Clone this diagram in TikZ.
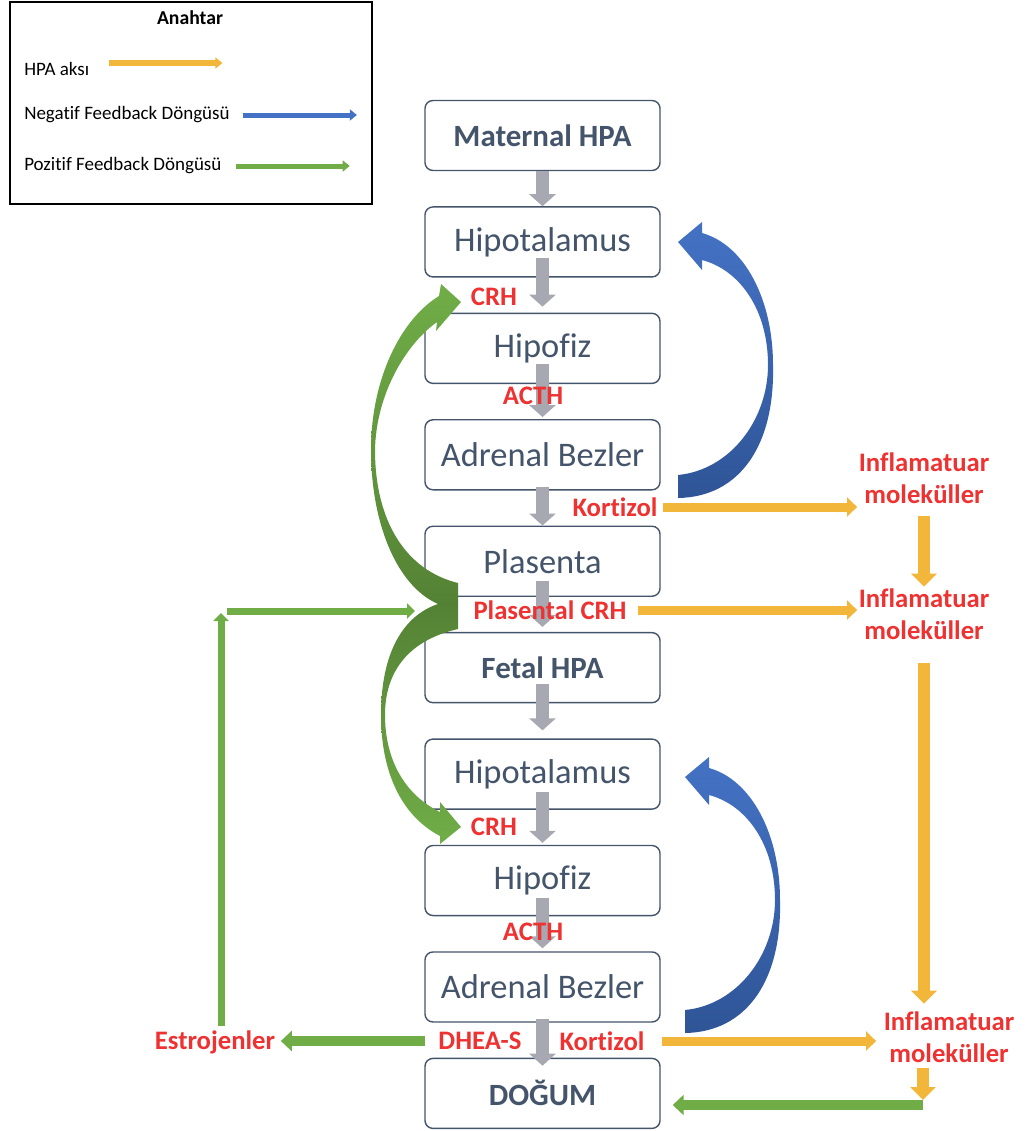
\documentclass[tikz,border=0pt]{standalone}
\usepackage{fontspec}
\setmainfont{Carlito}[Ligatures=NoCommon]
\usepackage{tikz}
\usepackage{xcolor}
\usetikzlibrary{arrows.meta,positioning,calc}
\definecolor{boxline}{RGB}{68,84,106}
\definecolor{flowgray}{RGB}{168,168,178}
\definecolor{hormonered}{RGB}{238,50,50}
\definecolor{axisyellow}{RGB}{242,183,58}
\definecolor{negblue}{RGB}{68,114,196}
\definecolor{negbluedark}{RGB}{47,85,151}
\definecolor{loopgreen}{RGB}{112,173,71}
\definecolor{loopgreendark}{RGB}{84,130,53}
\tikzset{
    hpa-box/.style = {draw=boxline, fill=white, line width=1pt, rectangle, rounded corners=0.2cm, minimum width=5.875cm, minimum height=1.75cm, inner sep=0pt, text=boxline, font=\fontsize{24.5}{28}\selectfont},
    hpa-box-bold/.style = {hpa-box, font=\fontsize{22}{26}\selectfont\bfseries},
    hormone/.style = {text=hormonered, font=\fontsize{19}{23}\selectfont\bfseries, inner sep=1pt, align=center},
    hpa-flow/.style = {draw=flowgray, line width=0.325cm, -{Triangle[width=0.65cm,length=0.3cm]}},
    hpa-axis/.style = {draw=axisyellow, line width=0.225cm, -{Triangle[width=0.475cm,length=0.25cm]}},
    hpa-axis-down/.style = {draw=axisyellow, line width=0.3cm, -{Triangle[width=0.625cm,length=0.325cm]}},
    pos-loop/.style = {draw=loopgreen, line width=0.25cm, -{Triangle[width=0.5cm,length=0.275cm]}},
    pos-loop-thin/.style = {draw=loopgreen, line width=0.175cm, -{Triangle[width=0.375cm,length=0.2cm]}},
    key-arrow/.style = {line width=0.125cm, -{Triangle[width=0.275cm,length=0.175cm]}},
    key-text/.style = {anchor=west, font=\fontsize{13.5}{16}\selectfont, inner sep=0pt},
}

\begin{document}
\begin{tikzpicture}[x=0.025cm, y=-0.025cm]
\useasboundingbox (0,0) rectangle (1035,1131);

\node[draw=black, line width=1pt, minimum width=9.05cm, minimum height=5.05cm, inner sep=0pt] (key) at (191,103) {};
\node[font=\fontsize{14}{16}\selectfont\bfseries] (key-title) at (190,18) {Anahtar};
\node[key-text] (key-hpa) at (24,69) {HPA aksı};
\node[key-text] (key-neg) at (24,115) {Negatif Feedback Döngüsü};
\node[key-text] (key-pos) at (24,166) {Pozitif Feedback Döngüsü};
\draw[key-arrow, draw=axisyellow] ([xshift=0.5cm, yshift=0.15cm]key-hpa.east) -- ++(113,0);
\draw[key-arrow, draw=negblue] ([xshift=0.325cm]key-neg.east) -- ++(114,0);
\draw[key-arrow, draw=loopgreen] ([xshift=0.35cm]key-pos.east) -- ++(114,0);

\node[hpa-box-bold] (mat) at (542.5,135.5) {Maternal HPA};
\node[hpa-box, below=0.875cm of mat] (hyp1) {Hipotalamus};
\node[hpa-box, below=0.875cm of hyp1] (pit1) {Hipofiz};
\node[hpa-box, below=0.875cm of pit1] (adr1) {Adrenal Bezler};
\node[hpa-box, below=0.875cm of adr1] (pla) {Plasenta};
\node[hpa-box-bold, below=0.875cm of pla] (fet) {Fetal HPA};
\node[hpa-box, below=0.875cm of fet] (hyp2) {Hipotalamus};
\node[hpa-box, below=0.875cm of hyp2] (pit2) {Hipofiz};
\node[hpa-box, below=0.875cm of pit2] (adr2) {Adrenal Bezler};
\node[hpa-box-bold, below=0.875cm of adr2] (birth) {DOĞUM};

\draw[hpa-flow] (mat.south) -- (hyp1.north);
\draw[hpa-flow] ([yshift=0.5cm]hyp1.south) -- ([yshift=0.15cm]pit1.north);
\draw[hpa-flow] ([yshift=0.5cm]pit1.south) -- ([yshift=0.05cm]adr1.north);
\draw[hpa-flow] ([yshift=0.1cm]adr1.south) -- (pla.north);
\draw[hpa-flow] ([yshift=0.4cm]pla.south) -- ([yshift=0.125cm]fet.north);
\draw[hpa-flow] ([yshift=0.475cm]fet.south) -- ([yshift=0.2cm]hyp2.north);
\draw[hpa-flow] ([yshift=0.45cm]hyp2.south) -- ([yshift=0.05cm]pit2.north);
\draw[hpa-flow] ([yshift=0.45cm]pit2.south) -- ([yshift=0.075cm]adr2.north);
\draw[hpa-flow] ([yshift=0.1cm]adr2.south) -- ([yshift=-0.2cm]birth.north);

\node[hormone] (crh1) at (494,297) {CRH};
\node[hormone] (acth1) at (533,396) {ACTH};
\node[hormone] (cort1) at (615,507) {Kortizol};
\node[hormone] (pcrh) at (550,610) {Plasental CRH};
\node[hormone] (crh2) at (494,827) {CRH};
\node[hormone] (acth2) at (533,932) {ACTH};
\node[hormone] (dhea) at (480,1041) {DHEA-S};
\node[hormone] (cort2) at (602,1041) {Kortizol};
\node[hormone] (estr) at (215,1042) {Estrojenler};
\node[hormone] (infl1) at (924,478) {Inflamatuar\\moleküller};
\node[hormone] (infl2) at (924,614) {Inflamatuar\\moleküller};
\node[hormone] (infl3) at (949,1037) {Inflamatuar\\moleküller};

\shade[top color=loopgreen, bottom color=loopgreendark] (458,583) -- (458,604) -- (438,604)
    .. controls (395,585) and (371,520) .. (371,450)
    .. controls (371,380) and (400,320) .. (439,296)
    -- (441,284) -- (461,302) -- (436,331) -- (437,322)
    .. controls (405,345) and (376,395) .. (375,450)
    .. controls (375,520) and (405,570) .. (458,583) -- cycle;
\shade[top color=loopgreendark, bottom color=loopgreen] (458,604) -- (458,629)
    .. controls (410,640) and (385,670) .. (385,715)
    .. controls (385,760) and (405,795) .. (440,812)
    -- (440,802) -- (461,827) -- (440,844) -- (440,836)
    .. controls (400,815) and (381,770) .. (381,715)
    .. controls (381,650) and (405,615) .. (438,604) -- cycle;

\shade[top color=negblue, bottom color=negbluedark] (678,498) -- (678,475)
    .. controls (730,470) and (768,420) .. (768,365)
    .. controls (768,310) and (740,270) .. (702,260)
    -- (702,270) -- (678,242) -- (702,222) -- (702,233)
    .. controls (745,245) and (773,300) .. (773,365)
    .. controls (775,445) and (740,497) .. (678,498) -- cycle;
\shade[top color=negblue, bottom color=negbluedark, shift={(7,535)}] (678,498) -- (678,475)
    .. controls (730,470) and (768,420) .. (768,365)
    .. controls (768,310) and (740,270) .. (702,260)
    -- (702,270) -- (678,242) -- (702,222) -- (702,233)
    .. controls (745,245) and (773,300) .. (773,365)
    .. controls (775,445) and (740,497) .. (678,498) -- cycle;

\draw[hpa-axis] ([xshift=0.1cm]cort1.east) -- (cort1.east -| infl1.west);
\draw[hpa-axis] ([xshift=0.25cm]pcrh.east) -- (pcrh.east -| infl2.west);
\draw[hpa-axis-down] ([yshift=-0.275cm]infl1.south) -- (infl2.north);
\draw[hpa-axis-down] ([yshift=-0.55cm]infl2.south) -- ($(infl2.south |- infl3.north)+(0,-6)$);
\draw[hpa-axis] ([xshift=0.4cm]cort2.east) -- ($(cort2.east -| infl3.west)+(-6,0)$);

\coordinate (birth-in) at (923,1105);
\draw[hpa-axis-down] ($(infl3.south -| birth-in)+(0,4)$) -- ($(birth-in)+(0,-5)$);
\draw[pos-loop] (birth-in) -- ($(birth.east |- birth-in)+(12,0)$);
\draw[pos-loop] ([xshift=-0.3cm]dhea.west) -- ($(estr.east |- dhea.west)+(4,0)$);

\coordinate (estr-up) at (221,613);
\coordinate (loop-in) at (415,611);
\draw[pos-loop-thin] ($(estr.north -| estr-up)+(0,-3)$) -- (estr-up);
\draw[pos-loop-thin] ($(estr-up)+(6,-2)$) -- (loop-in);
\end{tikzpicture}
\end{document}
